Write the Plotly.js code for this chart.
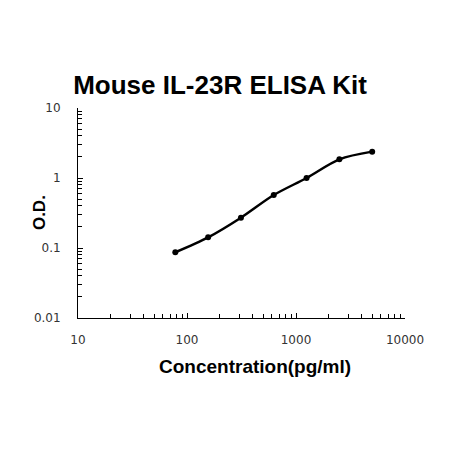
<!DOCTYPE html>
<html>
<head>
<meta charset="utf-8">
<script src="https://cdn.plot.ly/plotly-3.0.1.min.js"></script>
<style>
    html, body { margin: 0; padding: 0; background: #fff; }
    #chart { width: 450px; height: 450px; }
</style>
</head>
<body>
<div id="chart"></div>
<script>
    // standard curve
    var concentration = [78.125, 156.25, 312.5, 625, 1250, 2500, 5000];
    var od = [0.087, 0.142, 0.271, 0.571, 1.0, 1.85, 2.38];

    var xTickVals = [10, 100, 1000, 10000];
    var xTickText = ['10', '100', '1000', '10000'];
    var yTickVals = [0.01, 0.1, 1, 10];
    var yTickText = ['0.01', '0.1', '1', '10'];

    // minor ticks 2..9 in each decade
    function minorTicks(from, to) {
        var out = [];
        for (var d = from; d < to; d++) {
            for (var k = 2; k <= 9; k++) {
                out.push(k * Math.pow(10, d));
            }
        }
        return out;
    }

    var tickFont = {family: 'DejaVu Sans, Verdana, sans-serif', size: 12, color: '#333'};
    var boldFont = function (size) {
        return {family: 'Liberation Sans, Arial, sans-serif', size: size, color: '#000', weight: 'bold'};
    };

    var trace = {
        x: concentration,
        y: od,
        type: 'scatter',
        mode: 'lines+markers',
        line: {shape: 'spline', smoothing: 0.9, color: '#000', width: 2.5},
        marker: {color: '#000', size: 6},
        hoverinfo: 'x+y'
    };

    var layout = {
        width: 450,
        height: 450,
        margin: {l: 78, r: 45, t: 108, b: 132, pad: 0},
        paper_bgcolor: '#fff',
        plot_bgcolor: '#fff',
        showlegend: false,
        title: {
            text: 'Mouse IL-23R ELISA Kit',
            font: boldFont(26),
            x: 0.489,
            xanchor: 'center',
            y: 0.812,
            yanchor: 'middle'
        },
        xaxis: {
            type: 'log',
            range: [1, 4],
            tickmode: 'array',
            tickvals: xTickVals,
            ticktext: xTickText,
            ticks: 'inside',
            ticklen: 5,
            tickcolor: '#000',
            tickwidth: 1,
            minor: {tickmode: 'array', tickvals: minorTicks(1, 4), ticks: 'inside', ticklen: 4, tickcolor: '#000', showgrid: false},
            showline: true,
            linecolor: '#000',
            linewidth: 1,
            showgrid: false,
            zeroline: false,
            tickfont: tickFont,
            ticklabelstandoff: 11
        },
        yaxis: {
            type: 'log',
            range: [-2, 1],
            tickmode: 'array',
            tickvals: yTickVals,
            ticktext: yTickText,
            ticks: 'inside',
            ticklen: 5,
            tickcolor: '#000',
            tickwidth: 1,
            minor: {tickmode: 'array', tickvals: minorTicks(-2, 1), ticks: 'inside', ticklen: 4, tickcolor: '#000', showgrid: false},
            showline: true,
            linecolor: '#000',
            linewidth: 1,
            showgrid: false,
            zeroline: false,
            tickfont: tickFont,
            ticklabelstandoff: 14
        },
        // axis titles sit off-centre in the original, so place them by hand
        annotations: [
            {
                text: 'Concentration(pg/ml)',
                xref: 'paper', yref: 'paper',
                x: 0.541, y: -0.233,
                xanchor: 'center', yanchor: 'middle',
                showarrow: false,
                font: boldFont(19)
            },
            {
                text: 'O.D.',
                xref: 'paper', yref: 'paper',
                x: -0.119, y: 0.5,
                xanchor: 'center', yanchor: 'middle',
                textangle: -90,
                showarrow: false,
                font: boldFont(17)
            }
        ]
    };

    Plotly.newPlot('chart', [trace], layout, {displayModeBar: false, staticPlot: true});
</script>
</body>
</html>
